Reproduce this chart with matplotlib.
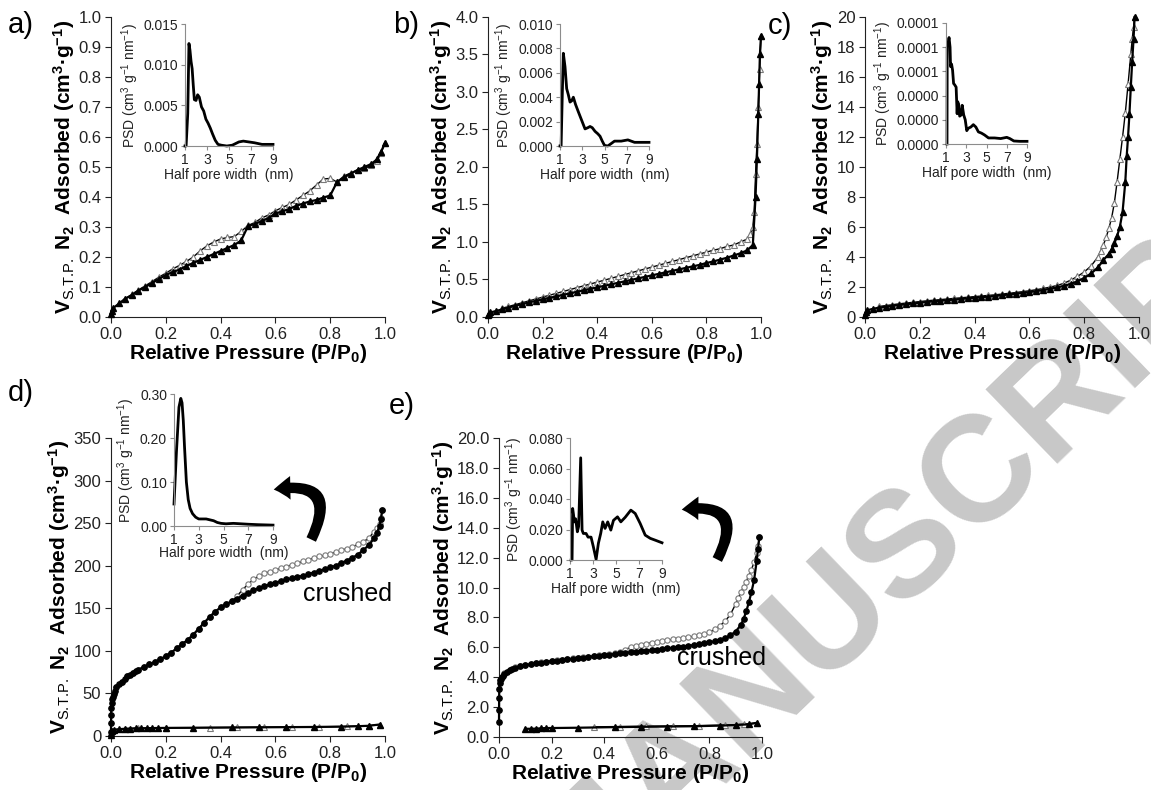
import matplotlib
matplotlib.use("Agg")
import matplotlib.pyplot as plt
from matplotlib.patches import FancyArrowPatch
from matplotlib.ticker import FormatStrFormatter, MultipleLocator

plt.rcParams['font.family'] = ['Liberation Sans', 'DejaVu Sans']
plt.rcParams['mathtext.fontset'] = 'custom'
plt.rcParams['mathtext.rm'] = 'Liberation Sans'
plt.rcParams['mathtext.it'] = 'Liberation Sans:italic'
plt.rcParams['mathtext.bf'] = 'Liberation Sans:bold'

# ---- shared relative-pressure grids ----
p_low = [0.0, 0.003, 0.008, 0.03]
p_mid = [0.05, 0.075, 0.1, 0.125, 0.15, 0.175, 0.2, 0.225, 0.25, 0.275, 0.3, 0.325,
         0.35, 0.375, 0.4, 0.425, 0.45, 0.475, 0.5, 0.525, 0.55, 0.575, 0.6, 0.625,
         0.65, 0.675, 0.7, 0.725, 0.75, 0.775, 0.8, 0.825, 0.85, 0.875, 0.9, 0.925, 0.95]
p_step = [0.12, 0.14, 0.16, 0.18, 0.2, 0.22, 0.24, 0.26, 0.28, 0.3, 0.32, 0.34, 0.36,
          0.38, 0.4, 0.42, 0.44, 0.46, 0.48, 0.5, 0.52, 0.54, 0.56, 0.58, 0.6, 0.62,
          0.64, 0.66, 0.68, 0.7, 0.72, 0.74, 0.76, 0.78, 0.8, 0.82, 0.84, 0.86, 0.88,
          0.9, 0.92, 0.94, 0.96]
p_zero = [0.0, 0.0002, 0.0005, 0.001, 0.002, 0.004, 0.007, 0.01, 0.015, 0.02, 0.03,
          0.04, 0.05, 0.06]

# ---- a) ----
a_ads_x = p_low + p_mid + [0.97, 0.985, 1.0]
a_ads_y = [0.01, 0.02, 0.03, 0.045,
           0.06, 0.072, 0.088, 0.1, 0.113, 0.127, 0.14, 0.15, 0.158, 0.17, 0.18, 0.19,
           0.2, 0.21, 0.22, 0.23, 0.24, 0.255, 0.303, 0.31, 0.32, 0.33, 0.345, 0.352,
           0.36, 0.37, 0.378, 0.385, 0.39, 0.398, 0.405, 0.45, 0.465, 0.478, 0.49, 0.5,
           0.51, 0.525, 0.55, 0.58]
a_des_x = p_mid + [0.97, 0.985, 1.0]
a_des_y = [0.06, 0.075, 0.09, 0.104, 0.118, 0.133, 0.146, 0.16, 0.172, 0.185, 0.2, 0.22,
           0.237, 0.25, 0.26, 0.265, 0.268, 0.285, 0.305, 0.315, 0.33, 0.34, 0.354, 0.365,
           0.375, 0.39, 0.405, 0.42, 0.44, 0.46, 0.462, 0.45, 0.47, 0.48, 0.49, 0.495,
           0.505, 0.52, 0.545, 0.58]

# ---- b) ----
b_ads_x = p_low + p_mid + [0.97, 0.98, 0.985, 0.99, 0.993, 0.996, 1.0]
b_ads_y = [0.02, 0.04, 0.06, 0.08,
           0.1, 0.125, 0.15, 0.17, 0.195, 0.215, 0.235, 0.255, 0.275, 0.295, 0.315, 0.335,
           0.355, 0.375, 0.395, 0.415, 0.435, 0.455, 0.475, 0.495, 0.515, 0.535, 0.555,
           0.575, 0.595, 0.615, 0.635, 0.655, 0.675, 0.695, 0.72, 0.74, 0.765, 0.79, 0.82,
           0.85, 0.89,
           0.96, 1.6, 2.1, 2.7, 3.1, 3.5, 3.75]
b_des_x = p_mid + [0.96, 0.97, 0.975, 0.98, 0.985, 0.99, 0.995, 1.0]
b_des_y = [0.115, 0.14, 0.165, 0.19, 0.215, 0.24, 0.265, 0.29, 0.315, 0.34, 0.365, 0.39,
           0.415, 0.44, 0.465, 0.49, 0.515, 0.54, 0.565, 0.59, 0.615, 0.64, 0.665, 0.69,
           0.715, 0.74, 0.765, 0.79, 0.815, 0.84, 0.865, 0.89, 0.91, 0.94, 0.96, 1.0, 1.04,
           1.1, 1.2, 1.4, 1.9, 2.3, 2.8, 3.3, 3.75]

# ---- c) ----
c_ads_x = p_low + p_mid[:32] + [0.85, 0.87, 0.89, 0.9, 0.91, 0.92, 0.93, 0.94, 0.95, 0.955,
                                0.96, 0.965, 0.97, 0.975, 0.98, 0.984]
c_ads_y = [0.1, 0.3, 0.45, 0.55,
           0.62, 0.68, 0.74, 0.8, 0.85, 0.9, 0.95, 1.0, 1.04, 1.08, 1.12, 1.16, 1.2, 1.24,
           1.28, 1.32, 1.36, 1.4, 1.45, 1.5, 1.55, 1.6, 1.66, 1.72, 1.8, 1.88, 1.97, 2.07,
           2.2, 2.38, 2.6, 2.9,
           3.3, 3.8, 4.2, 4.5, 4.9, 5.4, 6.0, 7.0, 9.0, 10.7, 12.0, 13.5, 15.3, 17.0, 18.5, 20.0]
c_des_x = p_mid[:32] + [0.85, 0.86, 0.87, 0.88, 0.89, 0.9, 0.91, 0.92, 0.93, 0.94, 0.95,
                        0.96, 0.97, 0.975, 0.98, 0.984]
c_des_y = [0.7, 0.76, 0.82, 0.88, 0.93, 0.98, 1.03, 1.08, 1.12, 1.16, 1.2, 1.24, 1.28, 1.32,
           1.36, 1.4, 1.44, 1.48, 1.53, 1.58, 1.63, 1.69, 1.75, 1.82, 1.9, 1.99, 2.1, 2.24,
           2.45, 2.7, 3.0, 3.4,
           4.0, 4.4, 4.8, 5.3, 5.9, 6.6, 7.6, 9.0, 10.5, 12.0, 13.6, 15.5, 17.5, 18.5, 19.3, 20.0]

# ---- d) crushed (circles) and monolith (triangles) ----
d_ads_x = p_zero + [0.07, 0.08, 0.09, 0.1] + p_step + [0.97, 0.98, 0.985, 0.99]
d_ads_y = [5, 15, 25, 33, 39, 43, 46, 49, 53, 57, 61, 64, 67, 70, 72, 74, 76, 78,
           81, 84, 87, 90, 94, 98, 103, 108, 113, 119, 126, 133, 140, 146, 151, 155, 158,
           161, 165, 168, 171, 174, 176, 178, 180, 182, 184, 185, 187, 188, 190, 192, 194,
           196, 198, 200, 203, 206, 209, 213, 218, 224, 232,
           238, 247, 255, 265]
d_des_x = [0.02, 0.04, 0.06, 0.08, 0.1] + p_step + [0.97, 0.98, 0.985, 0.99]
d_des_y = [57, 64, 70, 74, 78,
           81, 84, 87, 90, 94, 98, 103, 108, 113, 119, 126, 133, 140, 146, 151, 155, 158,
           164, 172, 178, 184, 188, 191, 193, 195, 197, 199, 201, 203, 205, 207, 209, 211,
           212, 214, 216, 218, 220, 222, 225, 228, 232, 240,
           244, 249, 256, 265]
d_mono_ads_x = [0.0, 0.001, 0.003, 0.01, 0.03, 0.05, 0.07, 0.09, 0.11, 0.13, 0.15, 0.17,
                0.2, 0.3, 0.44, 0.54, 0.64, 0.74, 0.84, 0.9, 0.94, 0.98]
d_mono_ads_y = [1, 4, 6, 7.5, 8, 8.5, 8.7, 9, 9, 9.2, 9.3, 9.4, 9.5, 9.7, 10, 10.2, 10.4,
                10.6, 11, 11.5, 12, 13.5]
d_mono_des_x = [0.05, 0.1, 0.2, 0.36, 0.46, 0.56, 0.66, 0.76, 0.86, 0.94, 0.98]
d_mono_des_y = [8.6, 9.1, 9.5, 9.9, 10.1, 10.3, 10.5, 10.8, 11.2, 12, 13.5]

# ---- e) ----
e_ads_x = p_zero + [0.08, 0.1] + p_step[:40] + [0.92, 0.93, 0.94, 0.95, 0.96, 0.97, 0.98,
                                                0.985, 0.99]
e_ads_y = [1.0, 1.8, 2.6, 3.2, 3.6, 3.8, 3.9, 4.0, 4.1, 4.2, 4.35, 4.45, 4.55, 4.62, 4.72, 4.8,
           4.86, 4.92, 4.97, 5.02, 5.07, 5.11, 5.15, 5.19, 5.23, 5.27, 5.31, 5.35, 5.39, 5.43,
           5.47, 5.51, 5.55, 5.59, 5.63, 5.67, 5.7, 5.73, 5.77, 5.81, 5.85, 5.89, 5.93, 5.97,
           6.01, 6.05, 6.1, 6.15, 6.2, 6.26, 6.33, 6.4, 6.5, 6.62, 6.8, 7.05,
           7.5, 7.9, 8.4, 9.0, 9.7, 10.5, 11.8, 12.6, 13.4]
e_des_x = [0.02, 0.04, 0.06, 0.08, 0.1] + p_step[:40] + [0.91, 0.92, 0.93, 0.94, 0.95, 0.96,
                                                         0.97, 0.98, 0.985, 0.99]
e_des_y = [4.25, 4.48, 4.65, 4.75, 4.83,
           4.89, 4.95, 5.0, 5.05, 5.1, 5.14, 5.18, 5.22, 5.26, 5.3, 5.34, 5.38, 5.42, 5.46,
           5.5, 5.54, 5.6, 5.7, 5.85, 6.0, 6.1, 6.18, 6.25, 6.3, 6.35, 6.42, 6.48, 6.53, 6.58,
           6.63, 6.68, 6.73, 6.8, 6.9, 7.0, 7.2, 7.45, 7.75, 8.2, 8.9,
           9.3, 9.7, 10.05, 10.4, 10.8, 11.2, 11.7, 12.3, 12.8, 13.4]
e_mono_ads_x = [0.1, 0.12, 0.14, 0.16, 0.18, 0.2, 0.3, 0.44, 0.54, 0.64, 0.74, 0.84, 0.9,
                0.95, 0.98]
e_mono_ads_y = [0.55, 0.55, 0.56, 0.58, 0.6, 0.6, 0.62, 0.66, 0.68, 0.7, 0.72, 0.76, 0.8,
                0.85, 0.95]
e_mono_des_x = [0.36, 0.46, 0.56, 0.66, 0.76, 0.86, 0.93, 0.98]
e_mono_des_y = [0.68, 0.7, 0.72, 0.74, 0.76, 0.8, 0.85, 0.95]

# ---- pore size distributions (insets) ----
a_psd_x = [1.0, 1.1, 1.25, 1.36, 1.45, 1.55, 1.65, 1.75, 1.85, 2.0, 2.15, 2.3, 2.5, 2.7,
           2.9, 3.1, 3.3, 3.5, 3.75, 4.0, 4.3, 4.8, 5.3, 5.6, 5.9, 6.3, 6.8, 7.3, 8.0, 9.0]
a_psd_y = [0.0, 0.0, 0.004, 0.0126, 0.0118, 0.0104, 0.0095, 0.0075, 0.0057, 0.0056, 0.0063,
           0.0060, 0.0048, 0.0043, 0.0033, 0.0028, 0.0022, 0.0015, 0.0007, 0.0002, 0.0001,
           0.0, 0.0001, 0.0003, 0.0005, 0.0006, 0.0005, 0.0004, 0.0002, 0.0002]
b_psd_x = [1.0, 1.1, 1.2, 1.3, 1.45, 1.6, 1.75, 1.9, 2.05, 2.2, 2.4, 2.65, 2.95, 3.25, 3.5,
           3.7, 3.9, 4.15, 4.4, 4.6, 4.8, 5.0, 5.3, 5.6, 5.9, 6.5, 7.1, 7.7, 8.3, 9.0]
b_psd_y = [0.0, 0.0, 0.004, 0.0076, 0.0065, 0.0047, 0.0042, 0.0036, 0.0037, 0.0040, 0.0034,
           0.0028, 0.0021, 0.0014, 0.0015, 0.0016, 0.0015, 0.0012, 0.0010, 0.0008, 0.0004,
           0.00005, 0.0, 0.0002, 0.0004, 0.0004, 0.0005, 0.0003, 0.0003, 0.0003]
c_psd_x = [1.1, 1.12, 1.2, 1.3, 1.4, 1.45, 1.55, 1.65, 1.75, 1.85, 2.0, 2.1, 2.15, 2.25,
           2.35, 2.5, 2.6, 2.75, 2.9, 3.05, 3.2, 3.45, 3.7, 3.95, 4.2, 4.5, 4.8, 5.2, 5.8,
           6.4, 7.0, 7.3, 7.7, 8.3, 9.0]
c_psd_y = [0.0, 8.0e-5, 8.3e-5, 8.8e-5, 8.0e-5, 6.4e-5, 6.6e-5, 6.1e-5, 5.0e-5, 4.9e-5,
           4.7e-5, 2.5e-5, 3.5e-5, 3.3e-5, 2.3e-5, 2.4e-5, 3.2e-5, 2.4e-5, 2.0e-5, 1.1e-5,
           1.3e-5, 1.4e-5, 1.6e-5, 1.4e-5, 1.0e-5, 9.0e-6, 7.5e-6, 5.0e-6, 5.0e-6, 4.5e-6,
           5.5e-6, 4.5e-6, 2.5e-6, 2.2e-6, 2.2e-6]
d_psd_x = [1.0, 1.2, 1.4, 1.55, 1.65, 1.75, 1.85, 2.0, 2.15, 2.3, 2.5, 2.75, 3.0, 3.3, 3.6,
           3.9, 4.2, 4.5, 4.8, 5.2, 5.8, 6.4, 7.0, 7.8, 9.0]
d_psd_y = [0.05, 0.17, 0.27, 0.29, 0.28, 0.24, 0.18, 0.10, 0.06, 0.04, 0.028, 0.02, 0.016,
           0.016, 0.016, 0.014, 0.012, 0.008, 0.006, 0.005, 0.006, 0.005, 0.004, 0.003, 0.002]
e_psd_x = [1.1, 1.18, 1.23, 1.3, 1.38, 1.49, 1.64, 1.75, 1.93, 2.05, 2.16, 2.4, 2.57, 2.83,
           3.03, 3.27, 3.47, 3.67, 3.85, 4.05, 4.28, 4.55, 4.78, 5.13, 5.42, 5.8, 6.29, 6.67,
           7.1, 7.54, 7.98, 8.41, 9.0]
e_psd_y = [0.0, 0.0, 0.0338, 0.030, 0.025, 0.027, 0.0185, 0.022, 0.067, 0.0196, 0.0174,
           0.0174, 0.015, 0.015, 0.0087, 0.0004, 0.011, 0.0174, 0.025, 0.0207, 0.025, 0.0196,
           0.026, 0.0283, 0.025, 0.028, 0.0327, 0.0305, 0.024, 0.0163, 0.0142, 0.013, 0.0113]

W, H = 1151, 790
fig = plt.figure(figsize=(W / 100, H / 100), dpi=100)


def box(left, top, right, bottom):
    # pixel box -> figure fraction rect
    return [left / W, 1 - bottom / H, (right - left) / W, (bottom - top) / H]


YLABEL = (r'$\mathbf{V}_{\mathrm{S.\!T.\!P.}}$ $\mathbf{N}_{\mathbf{2}}$  Adsorbed '
          r'(cm$^{\mathbf{3}}$·g$^{\mathbf{-1}}$)')
XLABEL = r'Relative Pressure (P/P$_{\mathbf{0}}$)'


def iso_axes(rect, ymax, ystep, fmt):
    ax = fig.add_axes(rect)
    ax.set_facecolor('none')
    ax.set_xlim(0, 1)
    ax.set_ylim(0, ymax)
    ax.xaxis.set_major_locator(MultipleLocator(0.2))
    ax.yaxis.set_major_locator(MultipleLocator(ystep))
    ax.xaxis.set_major_formatter(FormatStrFormatter('%.1f'))
    ax.yaxis.set_major_formatter(FormatStrFormatter(fmt))
    for s in ['top', 'right']:
        ax.spines[s].set_visible(False)
    for s in ['left', 'bottom']:
        ax.spines[s].set_color('#222222')
    ax.tick_params(direction='out', length=4, labelsize=12, colors='#222222', pad=3)
    ax.set_xlabel(XLABEL, fontsize=15, fontweight='bold', labelpad=0)
    ax.set_ylabel(YLABEL, fontsize=15, fontweight='bold', labelpad=1)
    return ax


def branch(ax, x, y, marker, filled):
    if filled:
        ax.plot(x, y, color='black', lw=1.6, marker=marker, ms=3.8, mfc='black',
                mec='black', clip_on=False, zorder=3)
    else:
        ax.plot(x, y, color='black', lw=1.0, marker=marker, ms=3.8, mfc='white',
                mec='#7a7a7a', mew=0.8, clip_on=False, zorder=2)


def psd_inset(rect, x, y, ymax, ticks, fmt, xlabelpad=1):
    ax = fig.add_axes(rect)
    ax.set_facecolor('none')
    ax.plot(x, y, color='black', lw=2, clip_on=False)
    ax.set_xlim(1, 9)
    ax.set_ylim(0, ymax)
    ax.set_xticks([1, 3, 5, 7, 9])
    ax.set_yticks(ticks)
    ax.yaxis.set_major_formatter(FormatStrFormatter(fmt))
    for s in ['top', 'right']:
        ax.spines[s].set_visible(False)
    for s in ['left', 'bottom']:
        ax.spines[s].set_color('#8c8c8c')
    ax.tick_params(direction='out', length=3, color='#8c8c8c', labelsize=10,
                   labelcolor='#222222', pad=2)
    ax.set_xlabel('Half pore width  (nm)', fontsize=10, labelpad=xlabelpad, color='#222222')
    ax.set_ylabel(r'PSD (cm$^3$ g$^{-1}$ nm$^{-1}$)', fontsize=10, labelpad=2,
                  color='#222222')
    return ax


# watermark behind everything
fig.text(907 / W, 1 - 545 / H, 'MANUSCRIPT', fontsize=108, fontweight='bold',
         color='#c8c8c8', rotation=44, ha='center', va='center',
         rotation_mode='anchor', zorder=-1)

ax_a = iso_axes(box(111, 17, 385, 317), 1.0, 0.1, '%.1f')
branch(ax_a, a_des_x, a_des_y, '^', False)
branch(ax_a, a_ads_x, a_ads_y, '^', True)

ax_b = iso_axes(box(488, 17, 761, 317), 4.0, 0.5, '%.1f')
branch(ax_b, b_des_x, b_des_y, '^', False)
branch(ax_b, b_ads_x, b_ads_y, '^', True)

ax_c = iso_axes(box(865, 17, 1139, 317), 20, 2, '%d')
branch(ax_c, c_des_x, c_des_y, '^', False)
branch(ax_c, c_ads_x, c_ads_y, '^', True)

ax_d = iso_axes(box(111, 438, 385, 736), 350, 50, '%d')
branch(ax_d, d_des_x, d_des_y, 'o', False)
branch(ax_d, d_ads_x, d_ads_y, 'o', True)
branch(ax_d, d_mono_des_x, d_mono_des_y, '^', False)
branch(ax_d, d_mono_ads_x, d_mono_ads_y, '^', True)

ax_e = iso_axes(box(499, 438, 762, 737), 20, 2, '%.1f')
branch(ax_e, e_des_x, e_des_y, 'o', False)
branch(ax_e, e_ads_x, e_ads_y, 'o', True)
branch(ax_e, e_mono_des_x, e_mono_des_y, '^', False)
branch(ax_e, e_mono_ads_x, e_mono_ads_y, '^', True)

psd_inset(box(185, 24, 273, 146), a_psd_x, a_psd_y, 0.015,
          [0, 0.005, 0.010, 0.015], '%.3f')
psd_inset(box(560, 24, 649, 146), b_psd_x, b_psd_y, 0.010,
          [0, 0.002, 0.004, 0.006, 0.008, 0.010], '%.3f')
psd_inset(box(946, 23, 1027, 144), c_psd_x, c_psd_y, 1e-4,
          [0, 2e-5, 4e-5, 6e-5, 8e-5, 1e-4], '%.4f')
psd_inset(box(174, 394, 273, 526), d_psd_x, d_psd_y, 0.30,
          [0, 0.10, 0.20, 0.30], '%.2f', xlabelpad=-1)
psd_inset(box(570, 438, 662, 560), e_psd_x, e_psd_y, 0.080,
          [0, 0.020, 0.040, 0.060, 0.080], '%.3f')


def curved_arrow(tail, head):
    arr = FancyArrowPatch(posA=(tail[0] / W, 1 - tail[1] / H),
                          posB=(head[0] / W, 1 - head[1] / H),
                          transform=fig.transFigure,
                          connectionstyle='arc3,rad=1.0',
                          arrowstyle='simple,head_width=17,head_length=12,tail_width=7.5',
                          color='black', mutation_scale=1, lw=0)
    fig.add_artist(arr)


curved_arrow((310, 542), (271, 490))
curved_arrow((716, 562), (679, 510))

fig.text(347 / W, 1 - 594 / H, 'crushed', fontsize=18, ha='center', va='center')
fig.text(722 / W, 1 - 658 / H, 'crushed', fontsize=18, ha='center', va='center')

for lbl, x, y in [('a)', 8, 25), ('b)', 393, 25), ('c)', 768, 26),
                  ('d)', 8, 393), ('e)', 389, 406)]:
    fig.text(x / W, 1 - y / H, lbl, fontsize=21, ha='left', va='center')

fig.savefig('out.png', dpi=100)
